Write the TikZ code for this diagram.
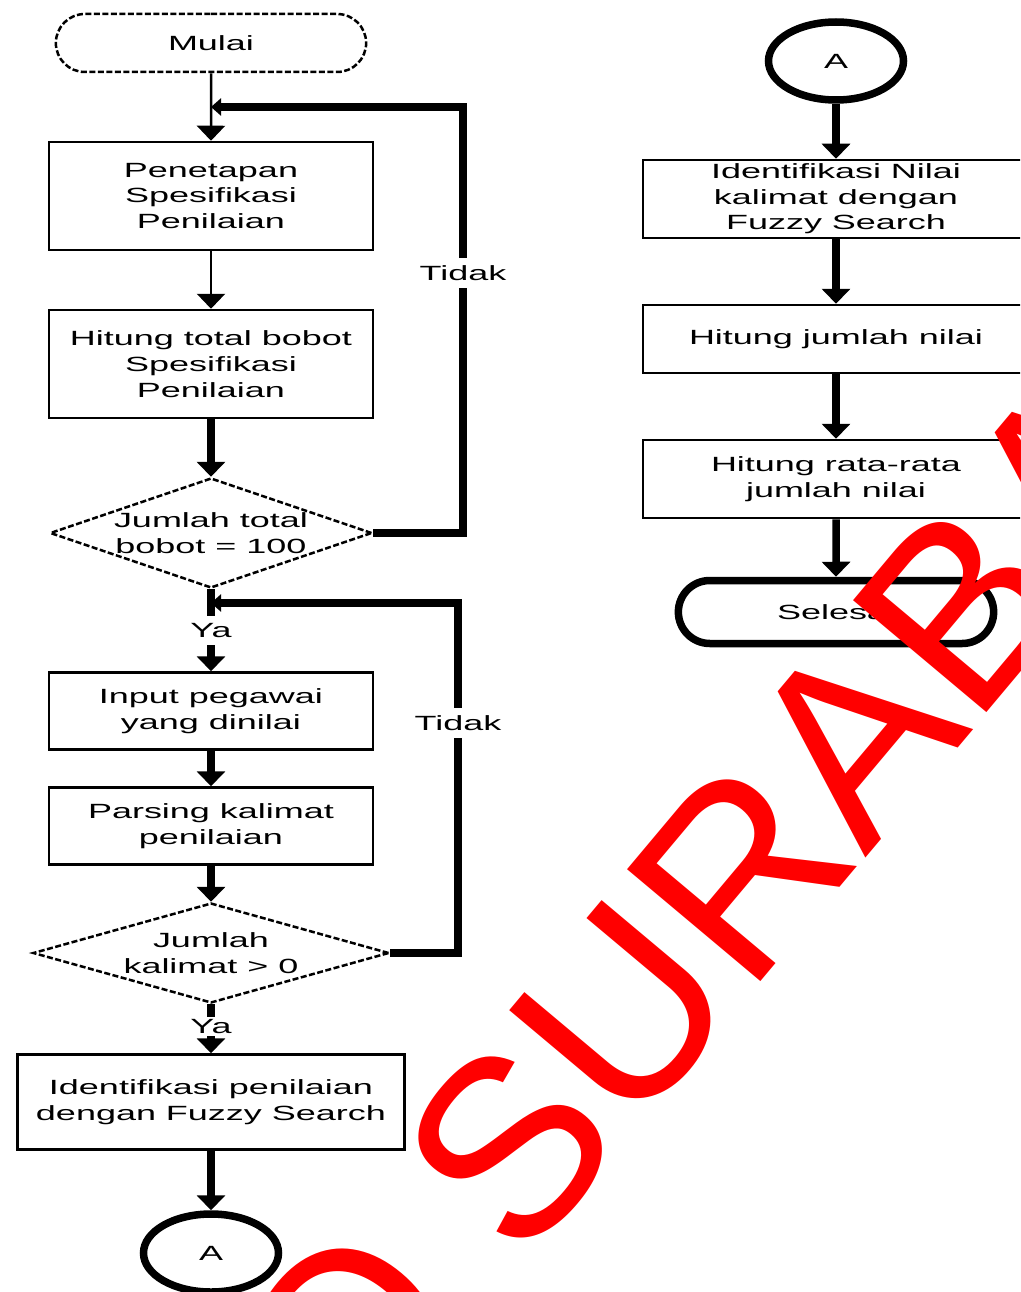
\documentclass[tikz,border=0pt]{standalone}
\usepackage{fontspec}
\setmainfont{Liberation Sans}
\newfontfamily\chartfont{Liberation Sans}[FakeStretch=1.75]
\usetikzlibrary{arrows.meta,shapes.geometric,shapes.misc}

\begin{document}
\begin{tikzpicture}[->,>={Triangle[length=0.3cm,width=0.56cm]},
            font=\chartfont\fontsize{11.7pt}{14.6pt}\selectfont,
            thinline/.style={line width=0.05cm},
            thickline/.style={line width=0.15cm},
            terminal/.style={rounded rectangle,draw,thinline,dash pattern=on 0.12cm off 0.05cm,minimum width=6.44cm,minimum height=1.16cm},
            process/.style={rectangle,draw,thinline,align=center,inner sep=0pt},
            decision/.style={diamond,draw,thinline,dash pattern=on 0.12cm off 0.05cm,align=center,inner sep=0pt},
            connector/.style={ellipse,draw,thickline,minimum width=2.7cm,minimum height=1.56cm,inner sep=0pt},
            answer/.style={fill=white,inner sep=0.15cm},
            merge/.style={thickline,-{Triangle[length=0.2cm,width=0.34cm]}}]
            %    \tikzstyle{every node}+=[inner sep=0pt]

            \useasboundingbox (0,0) rectangle (20.4,-25.84);
            \clip (0,0) rectangle (20.4,-25.84);

            \node[terminal] (Mulai) at (4.22,-0.86) {Mulai};
            \node[process,minimum width=6.48cm,minimum height=2.16cm] (Penetapan) [below of=Mulai, node distance=3.06cm] {Penetapan\\Spesifikasi\\Penilaian};
            \node[process,minimum width=6.48cm,minimum height=2.16cm] (HitungBobot) [below of=Penetapan, node distance=3.36cm] {Hitung total bobot\\Spesifikasi\\Penilaian};
            \node[decision,aspect=2.93,minimum width=6.44cm,minimum height=2.2cm] (CekBobot) [below of=HitungBobot, node distance=3.38cm] {Jumlah total\\bobot = 100};
            \node[process,minimum width=6.48cm,minimum height=1.54cm] (Input) [below of=CekBobot, node distance=3.56cm] {Input pegawai\\yang dinilai};
            \node[process,minimum width=6.48cm,minimum height=1.54cm] (Parsing) [below of=Input, node distance=2.3cm] {Parsing kalimat\\penilaian};
            \node[decision,aspect=3.56,minimum width=7.12cm,minimum height=2cm] (CekKalimat) [below of=Parsing, node distance=2.54cm] {Jumlah\\kalimat > 0};
            \node[process,minimum width=7.74cm,minimum height=1.9cm] (IdentPenilaian) [below of=CekKalimat, node distance=2.98cm] {Identifikasi penilaian\\dengan Fuzzy Search};
            \node[connector] (A1) [below of=IdentPenilaian, node distance=3.02cm] {A};

            \node[connector] (A2) at (16.72,-1.22) {A};
            \node[process,minimum width=7.72cm,minimum height=1.56cm] (IdentNilai) [below of=A2, node distance=2.76cm] {Identifikasi Nilai\\kalimat dengan\\Fuzzy Search};
            \node[process,minimum width=7.72cm,minimum height=1.36cm] (HitungJumlah) [below of=IdentNilai, node distance=2.8cm] {Hitung jumlah nilai};
            \node[process,minimum width=7.72cm,minimum height=1.56cm] (HitungRata) [below of=HitungJumlah, node distance=2.8cm] {Hitung rata-rata\\jumlah nilai};
            \node[terminal,solid,thickline,minimum width=6.54cm,minimum height=1.26cm] (Selesai) [below of=HitungRata, node distance=2.66cm] {Selesai};

            \coordinate[below of=Mulai, node distance=1.28cm] (m1);
            \coordinate[right of=CekBobot, node distance=5.04cm] (c1);
            \coordinate[below of=CekBobot, node distance=1.4cm] (m2);
            \coordinate[right of=CekKalimat, node distance=4.94cm] (c2);

            \path[thinline] (Mulai) edge (Penetapan)
            (Penetapan) edge (HitungBobot);
            \path[thickline] (HitungBobot) edge (CekBobot)
            (CekBobot) edge node[answer] {Ya} (Input)
            (Input) edge (Parsing)
            (Parsing) edge (CekKalimat)
            (CekKalimat) edge node[answer,inner ysep=0.05cm,pos=0.45] {Ya} (IdentPenilaian)
            (IdentPenilaian) edge (A1)
            (A2) edge (IdentNilai)
            (IdentNilai) edge (HitungJumlah)
            (HitungJumlah) edge (HitungRata)
            (HitungRata) edge (Selesai);

            \draw[merge] (CekBobot.east) -- (c1) |- node[answer,pos=0.305] {Tidak} (m1);
            \draw[merge] (CekKalimat.east) -- (c2) |- node[answer,pos=0.329] {Tidak} (m2);

            % watermark
            \node[text=red,font=\normalfont\fontsize{144pt}{144pt}\selectfont,rotate=50,anchor=base west,inner sep=0pt] (Mark) at (7.00,-29.44) {O SURABAYA};
        \end{tikzpicture}
\end{document}
